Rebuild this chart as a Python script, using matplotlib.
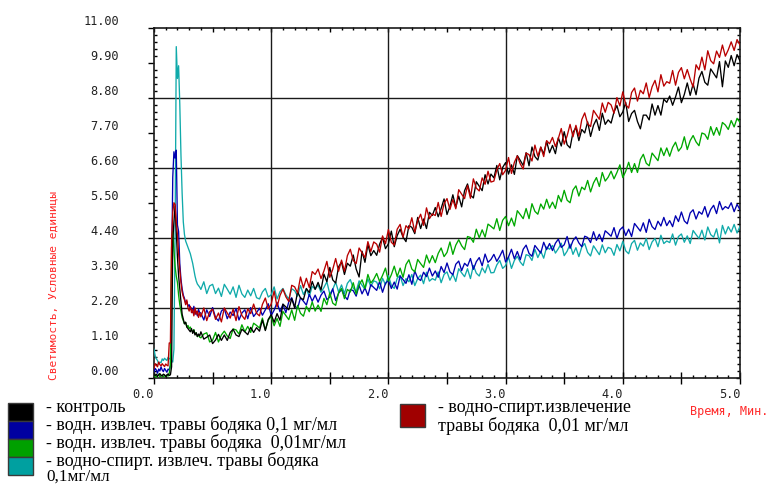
import numpy as np
import matplotlib
matplotlib.use("Agg")
import matplotlib.pyplot as plt
from matplotlib.patches import Rectangle
from matplotlib.ticker import FixedLocator

# ---------------- data ----------------
# sampling grid (minutes): fine around the flash, coarser afterwards
t_fast = np.round(np.arange(0.0, 0.40, 0.01), 3)          # 40 points
t_slow = np.round(np.arange(0.40, 5.0001, 0.025), 3)       # 185 points
time_min = np.concatenate([t_fast, t_slow])

control_fast = [0.10, 0.08, 0.12, 0.05, 0.10, 0.14, 0.08, 0.06, 0.12, 0.10,
                0.05, 0.09, 0.13, 0.08, 0.10, 0.35, 4.30, 4.90, 5.40, 4.60,
                3.80, 3.20, 2.80, 2.40, 2.00, 1.85, 1.70, 1.75, 1.60, 1.55,
                1.50, 1.45, 1.55, 1.40, 1.50, 1.35, 1.42, 1.30, 1.38, 1.32]
control_slow = [1.45, 1.22, 1.28, 1.35, 1.08, 1.19, 1.37, 1.18, 1.35, 1.18, 1.43, 1.53, 1.35, 1.30, 1.53, 1.45, 1.36, 1.59, 1.43, 1.58,
                1.47, 1.82, 1.49, 1.84, 1.99, 1.75, 2.02, 1.81, 2.32, 2.23, 2.14, 2.49, 2.20, 2.71, 2.51, 2.46, 2.81, 2.68, 3.03, 2.78,
                3.00, 2.76, 3.26, 3.02, 3.47, 3.08, 2.98, 3.49, 3.64, 3.25, 3.60, 3.51, 3.86, 3.42, 3.17, 3.98, 3.63, 4.19, 3.84, 4.00,
                3.85, 4.20, 4.41, 4.06, 4.21, 4.61, 4.12, 4.47, 4.67, 4.42, 4.28, 4.78, 4.73, 4.53, 5.04, 4.69, 4.99, 4.69, 5.20, 5.10,
                5.35, 5.06, 5.32, 5.62, 5.13, 5.39, 5.75, 5.36, 5.71, 5.37, 5.88, 6.09, 5.74, 5.65, 6.16, 6.02, 5.88, 6.38, 6.09, 6.40,
                6.28, 6.67, 6.22, 6.61, 6.76, 6.40, 6.69, 6.39, 6.98, 6.83, 6.67, 7.07, 6.66, 7.25, 6.95, 6.84, 7.24, 7.03, 7.43, 7.07,
                7.30, 7.04, 7.54, 7.28, 7.73, 7.32, 7.22, 7.71, 7.86, 7.45, 7.80, 7.69, 8.04, 7.58, 7.93, 8.12, 7.77, 8.31, 7.96, 8.10,
                8.00, 8.35, 8.55, 8.20, 8.35, 8.65, 8.05, 8.30, 8.40, 8.05, 7.82, 8.25, 8.25, 8.10, 8.60, 8.25, 8.55, 8.25, 8.75, 8.65,
                8.85, 8.56, 8.82, 9.13, 8.64, 8.90, 9.26, 8.87, 9.23, 8.89, 9.41, 9.62, 9.28, 9.19, 9.70, 9.56, 9.42, 9.93, 9.14, 9.95,
                9.75, 10.12, 9.80, 10.15, 9.95]

water01_fast = [0.20, 0.30, 0.25, 0.15, 0.28, 0.22, 0.35, 0.25, 0.20, 0.30,
                0.24, 0.18, 0.28, 0.25, 0.40, 3.20, 6.30, 7.10, 6.90, 7.15,
                4.80, 4.60, 3.60, 3.10, 2.80, 2.60, 2.50, 2.35, 2.40, 2.25,
                2.30, 2.15, 2.20, 2.05, 2.25, 2.00, 2.10, 1.95, 2.15, 2.05]
water01_slow = [2.04, 1.82, 2.14, 1.93, 2.21, 1.90, 1.79, 2.10, 2.18, 1.86, 2.07, 1.96, 2.18, 1.82, 2.04, 2.14, 1.86, 2.21, 1.93, 2.05,
                2.19, 1.97, 2.14, 2.33, 1.96, 2.13, 2.37, 2.08, 2.31, 2.05, 2.39, 2.52, 2.26, 2.18, 2.52, 2.41, 2.29, 2.63, 2.41, 2.60,
                2.38, 2.60, 2.73, 2.46, 2.54, 2.80, 2.43, 2.66, 2.78, 2.58, 2.46, 2.78, 2.74, 2.57, 2.91, 2.64, 2.83, 2.59, 2.93, 2.84,
                2.75, 3.03, 2.69, 2.97, 3.06, 2.81, 3.01, 2.79, 3.20, 3.09, 2.97, 3.24, 2.94, 3.36, 3.13, 3.06, 3.32, 3.18, 3.45, 3.20,
                3.36, 3.16, 3.50, 3.31, 3.61, 3.33, 3.24, 3.57, 3.67, 3.37, 3.60, 3.51, 3.75, 3.41, 3.65, 3.78, 3.52, 3.89, 3.63, 3.72,
                3.88, 3.66, 3.82, 4.01, 3.64, 3.80, 4.04, 3.74, 3.97, 3.71, 4.04, 4.17, 3.91, 3.82, 4.16, 4.04, 3.92, 4.26, 4.03, 4.22,
                4.00, 4.23, 4.36, 4.10, 4.18, 4.44, 4.07, 4.31, 4.43, 4.24, 4.12, 4.45, 4.41, 4.25, 4.59, 4.32, 4.51, 4.28, 4.62, 4.54,
                4.45, 4.72, 4.38, 4.65, 4.74, 4.47, 4.67, 4.44, 4.85, 4.73, 4.61, 4.87, 4.57, 4.98, 4.75, 4.66, 4.92, 4.77, 5.04, 4.78,
                4.94, 4.75, 5.09, 4.91, 5.21, 4.93, 4.84, 5.18, 5.28, 4.99, 5.22, 5.14, 5.38, 5.05, 5.29, 5.42, 5.16, 5.54, 5.28, 5.38,
                5.32, 5.50, 5.22, 5.45, 5.28]

water001_fast = [0.05, 0.10, 0.02, 0.08, 0.12, 0.04, 0.06, 0.10, 0.03, 0.08,
                 0.05, 0.10, 0.06, 0.15, 0.40, 4.10, 4.60, 4.00, 3.50, 3.20,
                 3.00, 2.60, 2.30, 2.10, 1.90, 1.80, 1.70, 1.75, 1.60, 1.65,
                 1.55, 1.60, 1.50, 1.45, 1.52, 1.38, 1.42, 1.30, 1.35, 1.28]
water001_slow = [1.26, 1.38, 1.42, 1.13, 1.19, 1.43, 1.13, 1.35, 1.47, 1.32, 1.24, 1.54, 1.51, 1.38, 1.67, 1.45, 1.62, 1.43, 1.72, 1.65,
                 1.57, 1.88, 1.51, 1.82, 1.93, 1.64, 1.87, 1.62, 2.09, 1.96, 1.83, 2.14, 1.81, 2.28, 2.03, 1.94, 2.25, 2.08, 2.39, 2.10,
                 2.29, 2.09, 2.50, 2.30, 2.67, 2.35, 2.28, 2.68, 2.81, 2.49, 2.78, 2.70, 2.99, 2.63, 2.92, 3.08, 2.81, 3.25, 2.98, 3.10,
                 3.28, 3.03, 3.22, 3.45, 3.04, 3.24, 3.51, 3.18, 3.45, 3.16, 3.56, 3.71, 3.42, 3.33, 3.72, 3.59, 3.47, 3.86, 3.61, 3.84,
                 3.62, 3.91, 4.08, 3.81, 3.94, 4.27, 3.88, 4.17, 4.34, 4.15, 4.03, 4.44, 4.41, 4.26, 4.67, 4.40, 4.65, 4.42, 4.83, 4.76,
                 4.68, 5.00, 4.63, 4.95, 5.07, 4.78, 5.02, 4.77, 5.25, 5.13, 5.00, 5.32, 5.00, 5.47, 5.23, 5.14, 5.46, 5.30, 5.61, 5.33,
                 5.52, 5.32, 5.73, 5.53, 5.89, 5.58, 5.50, 5.90, 6.03, 5.71, 5.99, 5.91, 6.20, 5.84, 6.12, 6.29, 6.01, 6.45, 6.18, 6.30,
                 6.49, 6.25, 6.45, 6.69, 6.29, 6.49, 6.77, 6.45, 6.73, 6.45, 6.86, 7.02, 6.74, 6.66, 7.06, 6.94, 6.82, 7.22, 6.98, 7.22,
                 6.96, 7.24, 7.40, 7.12, 7.24, 7.57, 7.17, 7.45, 7.61, 7.41, 7.29, 7.69, 7.65, 7.49, 7.89, 7.62, 7.86, 7.62, 8.02, 7.94,
                 7.80, 8.08, 7.88, 8.15, 8.02]

alc01_fast = [0.90, 0.70, 0.60, 0.55, 0.45, 0.50, 0.48, 0.60, 0.55, 0.62,
              0.58, 0.55, 0.65, 0.60, 0.62, 0.55, 0.50, 0.90, 4.50, 10.40,
              9.40, 9.80, 8.60, 7.00, 5.80, 4.90, 4.50, 4.30, 4.20, 4.10,
              4.00, 3.90, 3.75, 3.60, 3.40, 3.20, 3.05, 2.95, 2.90, 2.85]
alc01_slow = [2.78, 3.02, 2.65, 2.89, 2.94, 2.65, 2.82, 2.56, 2.94, 2.79, 2.63, 2.86, 2.53, 2.91, 2.64, 2.53, 2.76, 2.58, 2.81, 2.52,
              2.48, 2.70, 2.81, 2.54, 2.61, 2.86, 2.48, 2.71, 2.81, 2.61, 2.48, 2.80, 2.74, 2.57, 2.90, 2.62, 2.80, 2.56, 2.88, 2.79,
              2.92, 2.69, 2.84, 3.02, 2.64, 2.78, 3.01, 2.70, 2.92, 2.65, 2.97, 3.09, 2.82, 2.72, 3.05, 2.91, 2.78, 3.11, 2.87, 3.05,
              3.01, 2.80, 3.13, 2.93, 3.21, 2.91, 2.81, 3.13, 3.22, 2.90, 3.12, 3.02, 3.25, 2.90, 3.12, 3.23, 2.96, 3.32, 3.04, 3.12,
              3.07, 3.33, 2.99, 3.25, 3.33, 3.07, 3.26, 3.03, 3.43, 3.30, 3.18, 3.43, 3.12, 3.53, 3.29, 3.20, 3.46, 3.30, 3.57, 3.30,
              3.31, 3.55, 3.69, 3.44, 3.53, 3.80, 3.44, 3.69, 3.82, 3.64, 3.53, 3.87, 3.84, 3.69, 4.04, 3.78, 3.98, 3.76, 4.11, 4.04,
              4.16, 3.92, 4.06, 4.23, 3.84, 3.98, 4.20, 3.88, 4.09, 3.81, 4.11, 4.22, 3.94, 3.83, 4.15, 4.01, 3.87, 4.18, 3.93, 4.10,
              4.06, 3.85, 4.19, 3.99, 4.29, 3.99, 3.90, 4.22, 4.32, 4.01, 4.24, 4.14, 4.38, 4.03, 4.27, 4.38, 4.12, 4.48, 4.22, 4.30,
              4.25, 4.52, 4.17, 4.44, 4.52, 4.26, 4.46, 4.22, 4.63, 4.50, 4.38, 4.64, 4.33, 4.74, 4.50, 4.42, 4.68, 4.24, 4.79, 4.52,
              4.75, 4.58, 4.82, 4.55, 4.76]

alc001_fast = [0.30, 0.45, 0.40, 0.35, 0.50, 0.42, 0.38, 0.45, 0.40, 0.36,
               0.44, 0.40, 0.38, 1.10, 1.10, 4.30, 5.20, 5.50, 5.45, 4.90,
               4.50, 3.90, 3.40, 3.00, 2.70, 2.55, 2.45, 2.30, 2.45, 2.20,
               2.10, 2.25, 2.05, 2.15, 1.95, 2.20, 2.00, 2.10, 1.90, 2.05]
alc001_slow = [1.92, 2.20, 1.80, 2.08, 2.16, 1.84, 2.04, 1.76, 2.20, 2.04, 1.88, 2.16, 1.80, 2.24, 1.96, 1.84, 2.17, 2.02, 2.32, 2.03,
               1.95, 2.31, 2.51, 2.17, 2.32, 2.73, 2.23, 2.59, 2.79, 2.55, 2.40, 2.91, 2.86, 2.67, 3.17, 2.83, 3.13, 2.84, 3.34, 3.25,
               3.42, 3.12, 3.36, 3.66, 3.16, 3.41, 3.75, 3.35, 3.70, 3.35, 3.84, 4.04, 3.69, 3.59, 4.08, 3.93, 3.78, 4.28, 3.97, 4.27,
               4.20, 3.95, 4.46, 4.21, 4.66, 4.26, 4.17, 4.67, 4.82, 4.42, 4.78, 4.68, 5.03, 4.58, 4.94, 5.14, 4.79, 5.34, 5.00, 5.15,
               5.10, 5.51, 5.07, 5.47, 5.63, 5.29, 5.60, 5.31, 5.91, 5.77, 5.63, 6.04, 5.64, 6.25, 5.96, 5.87, 6.28, 6.08, 6.49, 6.15,
               6.18, 6.53, 6.73, 6.38, 6.52, 6.92, 6.42, 6.77, 6.97, 6.72, 6.56, 7.06, 7.01, 6.81, 7.31, 6.96, 7.25, 6.95, 7.45, 7.35,
               7.55, 7.26, 7.52, 7.83, 7.34, 7.60, 7.96, 7.57, 7.93, 7.59, 8.11, 8.32, 7.98, 7.89, 8.40, 8.26, 8.12, 8.63, 8.34, 8.65,
               8.57, 8.31, 8.80, 8.54, 8.98, 8.58, 8.47, 8.96, 9.10, 8.69, 9.03, 8.92, 9.26, 8.80, 9.14, 9.34, 8.98, 9.52, 9.16, 9.30,
               9.25, 9.65, 9.19, 9.59, 9.74, 9.39, 9.68, 9.38, 9.13, 9.83, 9.67, 10.07, 9.67, 10.27, 9.96, 9.86, 10.26, 10.06, 10.45, 10.10,
               10.30, 10.55, 10.28, 10.62, 10.45]

series_labels = ["- контроль",
                 "- водн. извлеч. травы бодяка 0,1 мг/мл",
                 "- водн. извлеч. травы бодяка  0,01мг/мл",
                 "- водно-спирт. извлеч. травы бодяка",
                 "- водно-спирт.извлечение"]
series_labels_cont = {3: "0,1мг/мл", 4: "травы бодяка  0,01 мг/мл"}

y_ticks = [0.0, 1.1, 2.2, 3.3, 4.4, 5.5, 6.6, 7.7, 8.8, 9.9, 11.0]
y_tick_labels = ["0.00", "1.10", "2.20", "3.30", "4.40", "5.50", "6.60", "7.70", "8.80", "9.90", "11.00"]
x_ticks = [0.0, 0.5, 1.0, 1.5, 2.0, 2.5, 3.0, 3.5, 4.0, 4.5, 5.0]
x_tick_labels = ["0.0", "", "1.0", "", "2.0", "", "3.0", "", "4.0", "", "5.0"]
y_grid = [2.2, 4.4, 6.6, 8.8]
x_grid = [1.0, 2.0, 3.0, 4.0]
y_minor = [round(i * 0.22, 2) for i in range(51)]
x_minor = [round(i * 0.1, 1) for i in range(51)]

# ---------------- styling ----------------
col_black = "#000000"
col_blue = "#0000b0"
col_green = "#00a800"
col_cyan = "#10aaaa"
col_red = "#b80000"
sq_colors = ["#000000", "#0000a0", "#00a000", "#00a0a0"]
sq_red = "#a00000"
label_red = "#ff2a2a"
mono = "DejaVu Sans Mono"
serif = "Liberation Serif"

W, H = 771, 487
fig = plt.figure(figsize=(W / 100, H / 100), dpi=100)
ax = fig.add_axes([154 / W, (H - 378) / H, 586 / W, 350.5 / H])


def fx(px):
    return px / W


def fy(py):
    return (H - py) / H


series = [
    (alc01_fast + alc01_slow, col_cyan),
    (water01_fast + water01_slow, col_blue),
    (water001_fast + water001_slow, col_green),
    (control_fast + control_slow, col_black),
    (alc001_fast + alc001_slow, col_red),
]
for vals, c in series:
    assert len(vals) == len(time_min)
    ax.plot(time_min, vals, color=c, lw=0.95, zorder=3)

for g in y_grid:
    ax.axhline(g, color="#1a1a1a", lw=1.0, zorder=1)
for g in x_grid:
    ax.axvline(g, color="#1a1a1a", lw=1.0, zorder=1)

ax.set_xlim(0, 5)
ax.set_ylim(0, 11)
for s in ax.spines.values():
    s.set_linewidth(1.2)
    s.set_color("#1a1a1a")

# left / bottom ticks
ax.yaxis.set_major_locator(FixedLocator(y_ticks))
ax.yaxis.set_minor_locator(FixedLocator(y_minor))
ax.set_yticklabels(y_tick_labels)
ax.xaxis.set_major_locator(FixedLocator(x_ticks))
ax.xaxis.set_minor_locator(FixedLocator(x_minor))
ax.set_xticklabels(x_tick_labels)
ax.tick_params(axis="y", which="major", direction="out", length=4.3, width=1.0,
               pad=21, labelsize=8.6, right=False)
ax.tick_params(axis="y", which="minor", direction="in", length=2.3, width=1.0, right=False)
ax.tick_params(axis="x", which="major", direction="inout", length=8, width=1.0,
               pad=3.0, labelsize=8.6, top=False)
ax.tick_params(axis="x", which="minor", direction="in", length=2.3, width=1.0, top=False)
for lab in ax.get_yticklabels():
    lab.set_fontfamily(mono)
    lab.set_va("bottom")
    lab.set_color("#222222")
for lab in ax.get_xticklabels():
    lab.set_fontfamily(mono)
    lab.set_ha("right")
    lab.set_color("#222222")

# right / top ticks (inward only)
sec_y = ax.secondary_yaxis("right")
sec_y.yaxis.set_major_locator(FixedLocator(y_ticks))
sec_y.yaxis.set_minor_locator(FixedLocator(y_minor))
sec_y.tick_params(which="major", direction="in", length=3.2, width=1.0, labelright=False)
sec_y.tick_params(which="minor", direction="in", length=2.3, width=1.0)
sec_y.spines["right"].set_visible(False)
sec_x = ax.secondary_xaxis("top")
sec_x.xaxis.set_major_locator(FixedLocator(x_ticks))
sec_x.xaxis.set_minor_locator(FixedLocator(x_minor))
sec_x.tick_params(which="major", direction="in", length=3.4, width=1.0, labeltop=False)
sec_x.tick_params(which="minor", direction="in", length=2.0, width=1.0)
sec_x.spines["top"].set_visible(False)

# axis titles
fig.text(fx(53), fy(285), "Светимость, Условные единицы", rotation=90,
         ha="center", va="center", color=label_red, family=mono, fontsize=8.1)
fig.text(fx(690), fy(411), "Время, Мин.", ha="left", va="center",
         color=label_red, family=mono, fontsize=8.5)

# legend (manual layout)
sq_tops = [403, 421, 439, 457]
for top, c in zip(sq_tops, sq_colors):
    fig.add_artist(Rectangle((fx(8), fy(top + 18)), 25 / W, 18 / H,
                             transform=fig.transFigure, facecolor=c,
                             edgecolor="#3a3a3a", lw=1.0))
text_y = [408, 425.5, 443, 460.5]
for i, yy in enumerate(text_y):
    fig.text(fx(46), fy(yy), series_labels[i], ha="left", va="center",
             family=serif, fontsize=13, color="black")
fig.text(fx(46), fy(477), series_labels_cont[3], ha="left", va="center",
         family=serif, fontsize=12.3, color="black")
fig.add_artist(Rectangle((fx(400), fy(427)), 25 / W, 23 / H,
                         transform=fig.transFigure, facecolor=sq_red,
                         edgecolor="#3a3a3a", lw=1.0))
fig.text(fx(438), fy(408), series_labels[4], ha="left", va="center",
         family=serif, fontsize=13, color="black")
fig.text(fx(438), fy(426), series_labels_cont[4], ha="left", va="center",
         family=serif, fontsize=13, color="black")

fig.savefig("out.png", dpi=100)
